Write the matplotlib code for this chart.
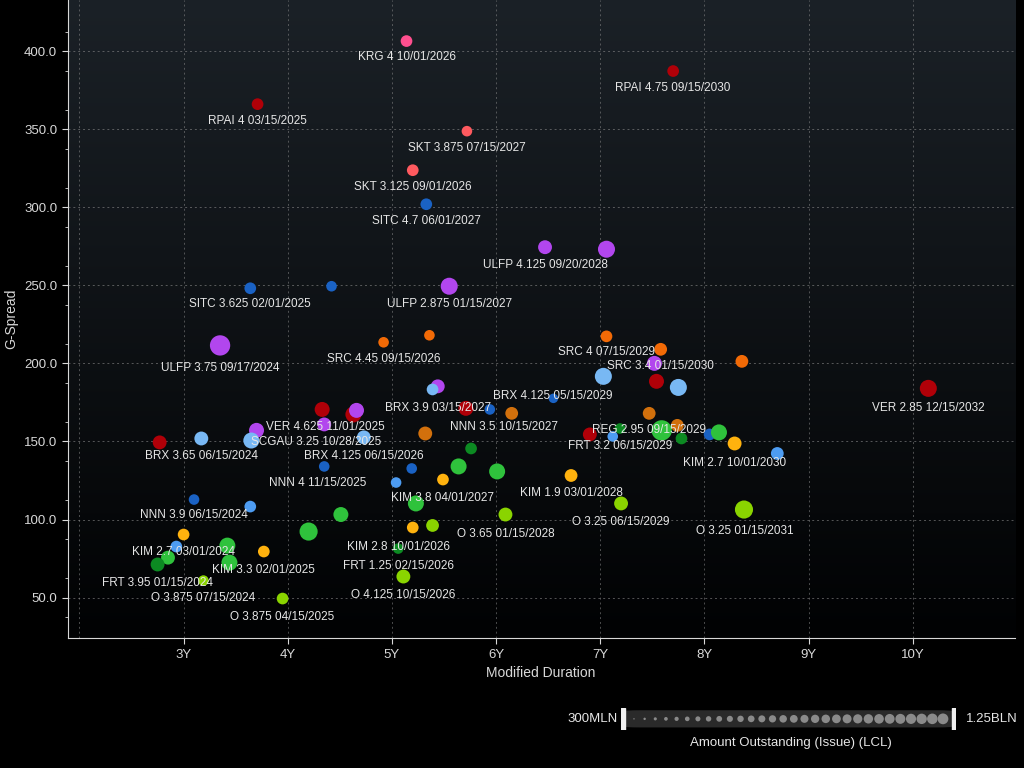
import numpy as np
import matplotlib
matplotlib.use("Agg")
import matplotlib.pyplot as plt
from matplotlib.patches import FancyBboxPatch

plt.rcParams['font.family'] = ['Liberation Sans', 'DejaVu Sans']

# bond points: modified duration, G-spread, amount outstanding (MLN), colour
duration = [5.14, 7.70, 3.71, 5.72, 5.20, 5.33, 6.47, 7.06, 5.55, 3.64, 4.42,
            4.92, 5.36, 3.35, 7.06, 7.58, 7.52, 8.36, 10.15, 7.03, 7.54, 7.75,
            6.55, 5.44, 5.39, 5.71, 5.94, 6.15, 4.33, 4.63, 4.66, 4.35, 3.70,
            3.65, 4.73, 2.77, 3.17, 5.32, 5.76, 4.35, 5.19, 5.04, 5.49, 5.64,
            6.01, 5.23, 7.47, 7.19, 7.59, 7.74, 7.78, 8.05, 8.14, 8.29, 6.90,
            7.12, 8.70, 6.72, 7.20, 6.09, 8.38, 3.10, 3.64, 3.00, 2.93, 2.85,
            2.75, 3.42, 3.44, 3.77, 4.20, 4.51, 3.19, 3.95, 5.20, 5.39, 5.06,
            5.11]
spread = [406.4, 387.2, 366.0, 348.7, 323.7, 301.9, 274.4, 273.1, 249.4, 248.1,
          249.4, 213.5, 218.0, 211.5, 217.3, 209.0, 200.0, 201.3, 184.0, 191.7,
          188.5, 184.6, 177.6, 185.3, 183.3, 171.2, 170.5, 168.0, 170.5, 167.3,
          169.9, 160.9, 157.1, 150.6, 152.6, 149.4, 151.9, 155.1, 145.5, 134.0,
          132.7, 123.7, 125.6, 134.0, 130.8, 110.3, 168.0, 158.3, 157.1, 160.3,
          151.9, 154.5, 155.8, 148.7, 154.5, 153.2, 142.3, 128.2, 110.3, 103.2,
          106.4, 112.8, 108.3, 90.4, 82.7, 75.6, 71.2, 83.3, 72.4, 79.5, 92.3,
          103.2, 60.9, 49.4, 94.9, 96.2, 81.4, 63.5]
amount = [460, 460, 460, 380, 460, 460, 620, 850, 850, 460, 380,
          380, 380, 1090, 460, 540, 700, 540, 850, 850, 700, 850,
          300, 620, 460, 700, 380, 540, 700, 775, 700, 620, 700,
          775, 620, 620, 620, 620, 460, 380, 380, 380, 460, 775,
          775, 775, 540, 380, 1090, 540, 460, 460, 775, 620, 620,
          380, 540, 540, 620, 620, 930, 380, 460, 460, 460, 620,
          620, 775, 775, 460, 930, 700, 380, 460, 460, 540, 380,
          620]
colour = ['pink', 'red', 'red', 'salmon', 'salmon', 'blue', 'purple', 'purple',
          'purple', 'blue', 'blue', 'orange', 'orange', 'purple', 'orange',
          'orange', 'purple', 'orange', 'red', 'lightblue', 'red', 'lightblue',
          'blue', 'purple', 'lightblue', 'red', 'blue', 'darkorange', 'red',
          'red', 'purple', 'purple', 'purple', 'lightblue', 'lightblue', 'red',
          'lightblue', 'darkorange', 'darkgreen', 'blue', 'blue', 'midblue',
          'amber', 'green', 'green', 'green', 'darkorange', 'darkgreen', 'green',
          'darkorange', 'darkgreen', 'blue', 'green', 'amber', 'red', 'midblue',
          'midblue', 'amber', 'lime', 'lime', 'lime', 'blue', 'midblue', 'amber',
          'midblue', 'green', 'darkgreen', 'green', 'green', 'amber', 'green',
          'green', 'lime', 'lime', 'amber', 'lime', 'darkgreen', 'lime']

palette = {'pink': '#ff4f8f', 'red': '#b00008', 'salmon': '#ff5a5f',
           'blue': '#1a62c4', 'lightblue': '#78b8f4', 'midblue': '#4d9cf2',
           'purple': '#b246ee', 'orange': '#f26a06', 'darkorange': '#d2700c',
           'amber': '#ffb20e', 'green': '#2fc23c', 'darkgreen': '#0c8a22',
           'lime': '#8ad400'}

label_text = ['KRG 4 10/01/2026', 'RPAI 4.75 09/15/2030', 'RPAI 4 03/15/2025',
              'SKT 3.875 07/15/2027', 'SKT 3.125 09/01/2026', 'SITC 4.7 06/01/2027',
              'ULFP 4.125 09/20/2028', 'ULFP 2.875 01/15/2027', 'SITC 3.625 02/01/2025',
              'SRC 4.45 09/15/2026', 'ULFP 3.75 09/17/2024', 'SRC 4 07/15/2029',
              'SRC 3.4 01/15/2030', 'VER 2.85 12/15/2032', 'BRX 4.125 05/15/2029',
              'BRX 3.9 03/15/2027', 'NNN 3.5 10/15/2027', 'VER 4.625 11/01/2025',
              'SCGAU 3.25 10/28/2025', 'BRX 3.65 06/15/2024', 'BRX 4.125 06/15/2026',
              'NNN 4 11/15/2025', 'KIM 3.8 04/01/2027', 'REG 2.95 09/15/2029',
              'FRT 3.2 06/15/2029', 'KIM 2.7 10/01/2030', 'KIM 1.9 03/01/2028',
              'O 3.25 06/15/2029', 'O 3.25 01/15/2031', 'O 3.65 01/15/2028',
              'NNN 3.9 06/15/2024', 'KIM 2.7 03/01/2024', 'KIM 3.3 02/01/2025',
              'FRT 3.95 01/15/2024', 'O 3.875 07/15/2024', 'O 3.875 04/15/2025',
              'KIM 2.8 10/01/2026', 'FRT 1.25 02/15/2026', 'O 4.125 10/15/2026']
label_x = [5.14, 7.70, 3.71, 5.72, 5.20, 5.33, 6.47, 5.55, 3.64, 4.92, 3.35,
           7.06, 7.58, 10.15, 6.54, 5.44, 6.08, 4.36, 4.27, 3.17, 4.73, 4.29,
           5.49, 7.47, 7.19, 8.29, 6.72, 7.20, 8.39, 6.09, 3.10, 3.00, 3.77,
           2.75, 3.19, 3.95, 5.06, 5.06, 5.11]
label_y = [396.2, 376.3, 355.1, 337.8, 312.8, 291.0, 262.8, 237.8, 237.8, 202.6,
           196.8, 207.1, 198.1, 171.2, 178.8, 171.2, 159.0, 159.0, 149.4, 140.4,
           140.4, 123.1, 114.1, 157.1, 147.4, 136.5, 117.3, 98.7, 92.9, 91.0,
           103.2, 79.5, 67.9, 59.6, 50.0, 37.8, 82.7, 70.5, 51.9]

x_ticks = [3, 4, 5, 6, 7, 8, 9, 10]
y_ticks = [50, 100, 150, 200, 250, 300, 350, 400]


def diameter_px(a):
    return 9.5 + 13 * (np.asarray(a) - 300) / 950.0


fig = plt.figure(figsize=(10.24, 7.68), dpi=100, facecolor='black')
ax = fig.add_axes([0.066, 0.169, 0.925, 0.831])
ax.set_facecolor('black')
xlim = (1.886, 10.98)
ylim = (24, 432.7)

# subtle dark gradient background
grad = np.linspace(0, 1, 256).reshape(-1, 1)
ax.imshow(grad, extent=[xlim[0], xlim[1], ylim[0], ylim[1]], aspect='auto',
          cmap=matplotlib.colors.LinearSegmentedColormap.from_list(
              'bg', ['#010203', '#1b2127']), origin='lower', zorder=0)

for g in range(2, 11):
    ax.axvline(g, color='#8a8a8a', lw=0.7, ls=(0, (2, 3)), alpha=0.55, zorder=1)
for g in range(50, 450, 50):
    ax.axhline(g, color='#8a8a8a', lw=0.7, ls=(0, (2, 3)), alpha=0.6, zorder=1)

s = (diameter_px(amount) * 0.72) ** 2
cols = [palette[c] for c in colour]
ax.scatter(duration, spread, s=s, c=cols, edgecolors='none', zorder=3)

for t, lx, ly in zip(label_text, label_x, label_y):
    ax.text(lx, ly, t, color='#e6e6e6', fontsize=8.5, ha='center', va='center',
            zorder=4)

ax.set_xlim(*xlim)
ax.set_ylim(*ylim)
ax.set_xticks(x_ticks)
ax.set_xticklabels([f'{v}Y' for v in x_ticks])
ax.set_yticks(y_ticks)
ax.set_yticklabels([f'{v:.1f}' for v in y_ticks])
ax.set_yticks(np.arange(37.5, 425, 25), minor=True)
ax.tick_params(colors='#d8d8d8', labelsize=9.5, length=4, direction='out')
ax.tick_params(which='minor', colors='#d8d8d8', length=2)
for side in ['top', 'right']:
    ax.spines[side].set_visible(False)
for side in ['left', 'bottom']:
    ax.spines[side].set_color('#d8d8d8')
ax.set_xlabel('Modified Duration', color='#d8d8d8', fontsize=10)
ax.set_ylabel('G-Spread', color='#d8d8d8', fontsize=10, labelpad=4)

# size legend
fig.text(0.603, 0.064, '300MLN', color='#e6e6e6', fontsize=9.5, ha='right', va='center')
fig.text(0.943, 0.064, '1.25BLN', color='#e6e6e6', fontsize=9.5, ha='left', va='center')
fig.text(0.772, 0.033, 'Amount Outstanding (Issue) (LCL)', color='#e6e6e6',
         fontsize=9.5, ha='center', va='center')
lax = fig.add_axes([0.606, 0.05, 0.328, 0.028])
lax.set_xlim(0, 1)
lax.set_ylim(0, 1)
lax.axis('off')
lax.add_patch(FancyBboxPatch((0.01, 0.1), 0.98, 0.8, boxstyle='round,pad=0,rounding_size=0.05',
                             facecolor='#2a2a2a', edgecolor='none'))
lax.add_patch(plt.Rectangle((0.0, 0.0), 0.012, 1.0, color='#f0f0f0'))
lax.add_patch(plt.Rectangle((0.988, 0.0), 0.012, 1.0, color='#f0f0f0'))
n = 30
xs = np.linspace(0.04, 0.96, n)
lax.scatter(xs, np.full(n, 0.5), s=np.linspace(1, 60, n), c='#8a8a8a',
            edgecolors='none')

fig.savefig('out.png', dpi=100, facecolor='black')
